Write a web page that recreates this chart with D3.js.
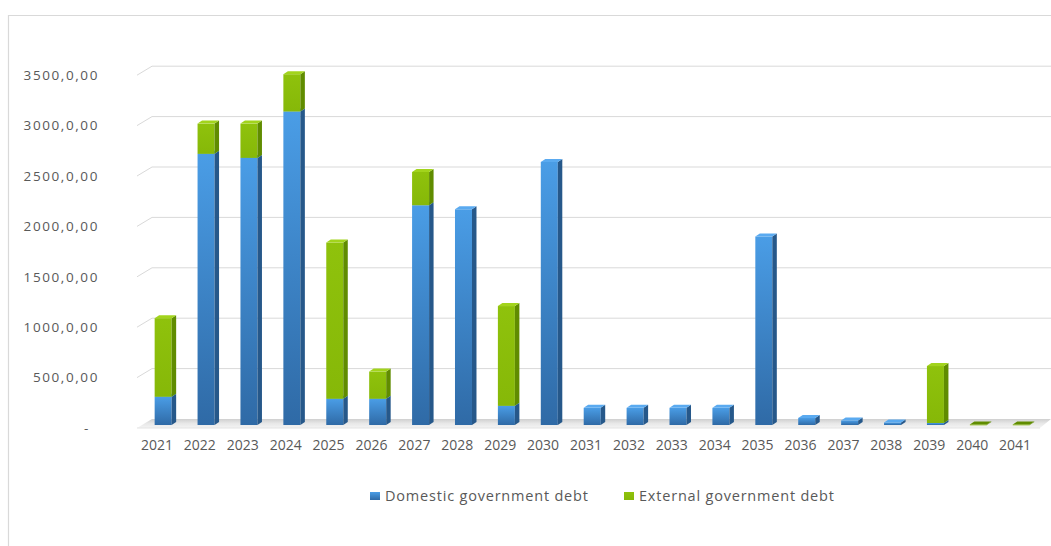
<!DOCTYPE html>
<html><head><meta charset="utf-8">
<script src="https://cdn.jsdelivr.net/npm/d3@7"></script>
<style>
html,body{margin:0;padding:0;background:#fff;}
svg{display:block;}
text{font-family:"Open Sans",sans-serif;fill:#595959;}
</style></head>
<body><svg id="c" width="1051" height="546"></svg>
<script>
const years = ["2021","2022","2023","2024","2025","2026","2027","2028","2029","2030","2031","2032","2033","2034","2035","2036","2037","2038","2039","2040","2041"];
const domestic = [280, 2690, 2650, 3110, 260, 260, 2180, 2140, 190, 2610, 170, 170, 170, 170, 1870, 70, 45, 25, 20, 0, 0];
const external = [780, 300, 340, 370, 1550, 270, 330, 0, 990, 0, 0, 0, 0, 0, 0, 0, 0, 0, 565, 5, 5];
const seriesNames = ["Domestic government debt", "External government debt"];
const yTicks = [0, 500, 1000, 1500, 2000, 2500, 3000, 3500];
const yTickLabels = ["-", "500,0,00", "1000,0,00", "1500,0,00", "2000,0,00", "2500,0,00", "3000,0,00", "3500,0,00"];

const svg = d3.select("#c");
const defs = svg.append("defs");
function grad(id, stops, x2, y2){
  const g = defs.append("linearGradient").attr("id", id).attr("x1",0).attr("y1",0).attr("x2",x2).attr("y2",y2);
  stops.forEach(s=>g.append("stop").attr("offset",s[0]).attr("stop-color",s[1]));
}
grad("blueF", [[0,"#4a9de6"],[1,"#2f6aa6"]], 0, 1);
grad("greenF", [[0,"#8fc20c"],[1,"#86b808"]], 0, 1);
grad("floorG", [[0,"#cfcfcf"],[0.5,"#e8e8e8"],[1,"#f4f4f4"]], 0, 1);

// frame
svg.append("path").attr("d","M8.5,546 V15.5 H1051").attr("fill","none").attr("stroke","#d9d9d9").attr("stroke-width",1.2);

const y = d3.scaleLinear().domain([0, 3500]).range([425, 72.2]);
const x = d3.scaleBand().domain(years).range([135.5, 1036.5]);
const depthY = 9;

// gridlines (back wall + left diagonal)
const grid = svg.append("g");
yTicks.forEach(t=>{
  const yf = y(t) + 3, yb = yf - depthY;
  if (t > 0) {
    grid.append("path").attr("d", `M137,${yf} L152,${yb} H1051`).attr("fill","none").attr("stroke","#d9d9d9").attr("stroke-width",1);
  }
});
// floor
svg.append("path").attr("d", `M137,${y(0)+3} L152,${y(0)+3-depthY} H1051 L1040,${y(0)+3} Z`).attr("fill","url(#floorG)");
svg.append("path").attr("d", `M137,${y(0)+3} H1040`).attr("stroke","#e3e3e3").attr("fill","none");

// axes
const yAxis = svg.append("g").attr("transform","translate(103,3)")
  .call(d3.axisLeft(y).tickValues(yTicks).tickSize(0).tickPadding(4).tickFormat((d,i)=>yTickLabels[i]));
yAxis.select(".domain").remove();
yAxis.selectAll("text").style("font-size","13.5px").style("letter-spacing","1.6px").attr("fill","#595959");
yAxis.selectAll("text").filter(d=>d===0).attr("dx","-9");

const xAxis = svg.append("g").attr("transform", `translate(0,${y(0)+3})`)
  .call(d3.axisBottom(x).tickSize(0).tickPadding(12));
xAxis.select(".domain").remove();
xAxis.selectAll("text").style("font-size","14px").attr("fill","#595959");

// bars
const bw = 17, sd = 4.5, su = 3;
const bars = svg.append("g");
const stacked = years.map((yr,i)=>({yr, i, segs:[
  {v0:0, v1:domestic[i], s:0},
  {v0:domestic[i], v1:domestic[i]+external[i], s:1}
]}));
const cols = [
  {front:"url(#blueF)", side:"#26588a", top:"#5aaaf0"},
  {front:"url(#greenF)", side:"#608c00", top:"#a2d41c"}
];
stacked.forEach(d=>{
  const cx = x(d.yr) + x.bandwidth()/2 + 6.2;
  const x0 = cx - bw/2, x1 = cx + bw/2;
  d.segs.forEach(s=>{
    if (s.v1 - s.v0 <= 0) return;
    const yt = y(s.v1), yb = y(s.v0);
    const c = cols[s.s];
    const tiny = (yb - yt) < 2;
    bars.append("rect").attr("x",x0).attr("y",yt).attr("width",bw).attr("height",Math.max(0.8,yb-yt)).attr("fill",c.front);
    bars.append("path").attr("d",`M${x1},${yt} L${x1+sd},${yt-su} L${x1+sd},${yb-su} L${x1},${yb} Z`).attr("fill",c.side);
    bars.append("path").attr("d",`M${x0},${yt} L${x0+sd},${yt-su} L${x1+sd},${yt-su} L${x1},${yt} Z`).attr("fill",tiny ? c.side : c.top);
  });
});

// legend
const leg = svg.append("g");
const legItems = [{x:370, c:"url(#blueF)", t:seriesNames[0]},{x:624, c:"url(#greenF)", t:seriesNames[1]}];
legItems.forEach(l=>{
  leg.append("rect").attr("x",l.x).attr("y",492).attr("width",10).attr("height",8).attr("fill",l.c);
  leg.append("text").attr("x",l.x+15).attr("y",496).attr("dy","0.35em").style("font-size","14.5px").style("letter-spacing","0.8px").text(l.t);
});
</script></body></html>
